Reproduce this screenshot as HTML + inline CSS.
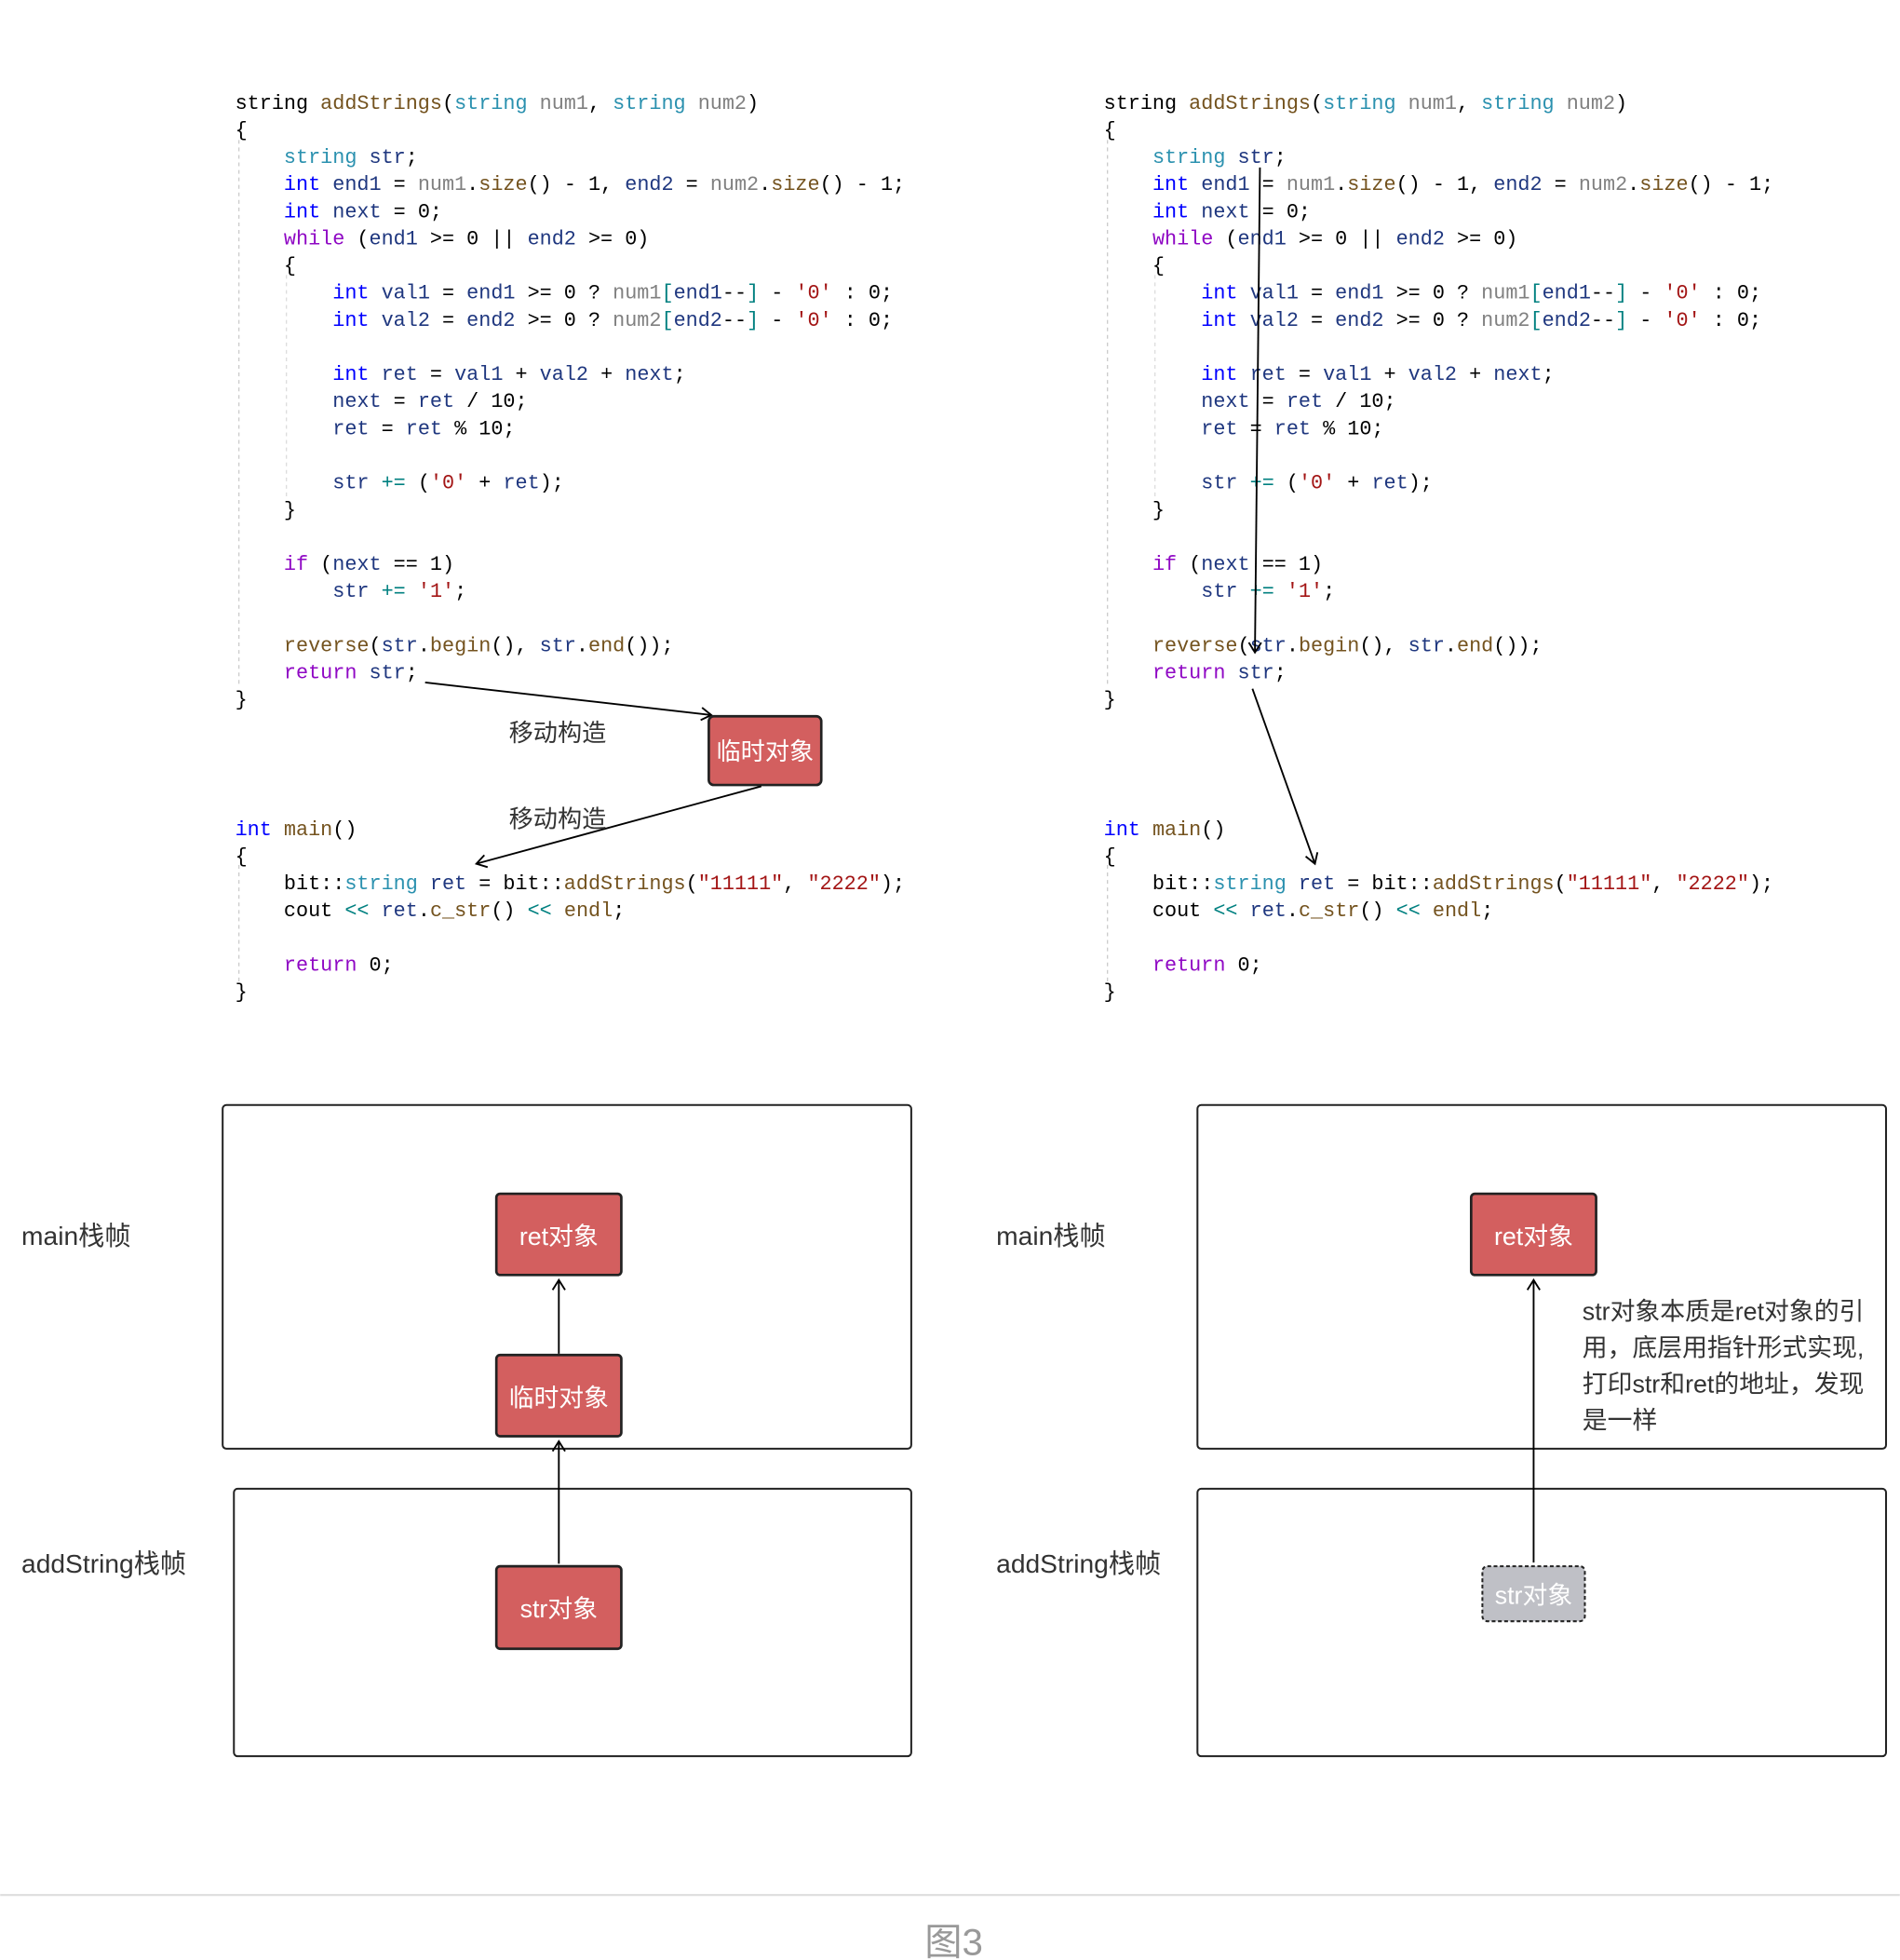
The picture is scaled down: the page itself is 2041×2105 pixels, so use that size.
<!DOCTYPE html>
<html><head><meta charset="utf-8"><style>
html,body{margin:0;padding:0;background:#fff;}
svg{display:block}
.c{font-family:"Liberation Mono",monospace;font-size:16.25px;white-space:pre;fill:#000}
.K{fill:#0000ff}.T{fill:#2b91af}.F{fill:#74531f}.P{fill:#808080}.V{fill:#1f377f}.C{fill:#8f08c4}.S{fill:#a31515}.O{fill:#008080}
.z{font-family:"Liberation Sans","Noto Sans CJK SC",sans-serif;}
</style></head><body>
<svg width="2041" height="2105" viewBox="0 0 1520 1568" xmlns="http://www.w3.org/2000/svg">
<defs>
<marker id="a" markerWidth="12" markerHeight="12" refX="10" refY="6" orient="auto" markerUnits="userSpaceOnUse">
<path d="M2,1 L10,6 L2,11" fill="none" stroke="#000" stroke-width="1.4"/></marker>
</defs>
<g id="code">
<line x1="191" y1="112" x2="191" y2="550" stroke="#ccc" stroke-dasharray="3,3"/>
<line x1="229" y1="220" x2="229" y2="400" stroke="#ddd" stroke-dasharray="3,3"/>
<line x1="191" y1="692" x2="191" y2="785" stroke="#ccc" stroke-dasharray="3,3"/>
<text class="c" x="188" y="87">string <tspan class="F">addStrings</tspan>(<tspan class="T">string </tspan><tspan class="P">num1</tspan>, <tspan class="T">string </tspan><tspan class="P">num2</tspan>)</text>
<text class="c" x="188" y="108.7">{</text>
<text class="c" x="188" y="130.4">    <tspan class="T">string </tspan><tspan class="V">str</tspan>;</text>
<text class="c" x="188" y="152.1">    <tspan class="K">int </tspan><tspan class="V">end1</tspan> = <tspan class="P">num1</tspan>.<tspan class="F">size</tspan>() - 1, <tspan class="V">end2</tspan> = <tspan class="P">num2</tspan>.<tspan class="F">size</tspan>() - 1;</text>
<text class="c" x="188" y="173.8">    <tspan class="K">int </tspan><tspan class="V">next</tspan> = 0;</text>
<text class="c" x="188" y="195.5">    <tspan class="C">while</tspan> (<tspan class="V">end1</tspan> &gt;= 0 || <tspan class="V">end2</tspan> &gt;= 0)</text>
<text class="c" x="188" y="217.2">    {</text>
<text class="c" x="188" y="238.9">        <tspan class="K">int </tspan><tspan class="V">val1</tspan> = <tspan class="V">end1</tspan> &gt;= 0 ? <tspan class="P">num1</tspan><tspan class="O">[</tspan><tspan class="V">end1</tspan>--<tspan class="O">]</tspan> - <tspan class="S">'0'</tspan> : 0;</text>
<text class="c" x="188" y="260.6">        <tspan class="K">int </tspan><tspan class="V">val2</tspan> = <tspan class="V">end2</tspan> &gt;= 0 ? <tspan class="P">num2</tspan><tspan class="O">[</tspan><tspan class="V">end2</tspan>--<tspan class="O">]</tspan> - <tspan class="S">'0'</tspan> : 0;</text>
<text class="c" x="188" y="304">        <tspan class="K">int </tspan><tspan class="V">ret</tspan> = <tspan class="V">val1</tspan> + <tspan class="V">val2</tspan> + <tspan class="V">next</tspan>;</text>
<text class="c" x="188" y="325.7">        <tspan class="V">next</tspan> = <tspan class="V">ret</tspan> / 10;</text>
<text class="c" x="188" y="347.4">        <tspan class="V">ret</tspan> = <tspan class="V">ret</tspan> % 10;</text>
<text class="c" x="188" y="390.8">        <tspan class="V">str</tspan> <tspan class="O">+=</tspan> (<tspan class="S">'0'</tspan> + <tspan class="V">ret</tspan>);</text>
<text class="c" x="188" y="412.5">    }</text>
<text class="c" x="188" y="455.9">    <tspan class="C">if</tspan> (<tspan class="V">next</tspan> == 1)</text>
<text class="c" x="188" y="477.6">        <tspan class="V">str</tspan> <tspan class="O">+=</tspan> <tspan class="S">'1'</tspan>;</text>
<text class="c" x="188" y="521">    <tspan class="F">reverse</tspan>(<tspan class="V">str</tspan>.<tspan class="F">begin</tspan>(), <tspan class="V">str</tspan>.<tspan class="F">end</tspan>());</text>
<text class="c" x="188" y="542.7">    <tspan class="C">return</tspan> <tspan class="V">str</tspan>;</text>
<text class="c" x="188" y="564.4">}</text>
<text class="c" x="188" y="668"><tspan class="K">int </tspan><tspan class="F">main</tspan>()</text>
<text class="c" x="188" y="689.7">{</text>
<text class="c" x="188" y="711.4">    bit::<tspan class="T">string </tspan><tspan class="V">ret</tspan> = bit::<tspan class="F">addStrings</tspan>(<tspan class="S">"11111"</tspan>, <tspan class="S">"2222"</tspan>);</text>
<text class="c" x="188" y="733.1">    cout <tspan class="O">&lt;&lt;</tspan> <tspan class="V">ret</tspan>.<tspan class="F">c_str</tspan>() <tspan class="O">&lt;&lt;</tspan> <tspan class="F">endl</tspan>;</text>
<text class="c" x="188" y="776.5">    <tspan class="C">return</tspan> 0;</text>
<text class="c" x="188" y="798.2">}</text>
</g>
<g transform="translate(695,0)">
<line x1="191" y1="112" x2="191" y2="550" stroke="#ccc" stroke-dasharray="3,3"/>
<line x1="229" y1="220" x2="229" y2="400" stroke="#ddd" stroke-dasharray="3,3"/>
<line x1="191" y1="692" x2="191" y2="785" stroke="#ccc" stroke-dasharray="3,3"/>
<text class="c" x="188" y="87">string <tspan class="F">addStrings</tspan>(<tspan class="T">string </tspan><tspan class="P">num1</tspan>, <tspan class="T">string </tspan><tspan class="P">num2</tspan>)</text>
<text class="c" x="188" y="108.7">{</text>
<text class="c" x="188" y="130.4">    <tspan class="T">string </tspan><tspan class="V">str</tspan>;</text>
<text class="c" x="188" y="152.1">    <tspan class="K">int </tspan><tspan class="V">end1</tspan> = <tspan class="P">num1</tspan>.<tspan class="F">size</tspan>() - 1, <tspan class="V">end2</tspan> = <tspan class="P">num2</tspan>.<tspan class="F">size</tspan>() - 1;</text>
<text class="c" x="188" y="173.8">    <tspan class="K">int </tspan><tspan class="V">next</tspan> = 0;</text>
<text class="c" x="188" y="195.5">    <tspan class="C">while</tspan> (<tspan class="V">end1</tspan> &gt;= 0 || <tspan class="V">end2</tspan> &gt;= 0)</text>
<text class="c" x="188" y="217.2">    {</text>
<text class="c" x="188" y="238.9">        <tspan class="K">int </tspan><tspan class="V">val1</tspan> = <tspan class="V">end1</tspan> &gt;= 0 ? <tspan class="P">num1</tspan><tspan class="O">[</tspan><tspan class="V">end1</tspan>--<tspan class="O">]</tspan> - <tspan class="S">'0'</tspan> : 0;</text>
<text class="c" x="188" y="260.6">        <tspan class="K">int </tspan><tspan class="V">val2</tspan> = <tspan class="V">end2</tspan> &gt;= 0 ? <tspan class="P">num2</tspan><tspan class="O">[</tspan><tspan class="V">end2</tspan>--<tspan class="O">]</tspan> - <tspan class="S">'0'</tspan> : 0;</text>
<text class="c" x="188" y="304">        <tspan class="K">int </tspan><tspan class="V">ret</tspan> = <tspan class="V">val1</tspan> + <tspan class="V">val2</tspan> + <tspan class="V">next</tspan>;</text>
<text class="c" x="188" y="325.7">        <tspan class="V">next</tspan> = <tspan class="V">ret</tspan> / 10;</text>
<text class="c" x="188" y="347.4">        <tspan class="V">ret</tspan> = <tspan class="V">ret</tspan> % 10;</text>
<text class="c" x="188" y="390.8">        <tspan class="V">str</tspan> <tspan class="O">+=</tspan> (<tspan class="S">'0'</tspan> + <tspan class="V">ret</tspan>);</text>
<text class="c" x="188" y="412.5">    }</text>
<text class="c" x="188" y="455.9">    <tspan class="C">if</tspan> (<tspan class="V">next</tspan> == 1)</text>
<text class="c" x="188" y="477.6">        <tspan class="V">str</tspan> <tspan class="O">+=</tspan> <tspan class="S">'1'</tspan>;</text>
<text class="c" x="188" y="521">    <tspan class="F">reverse</tspan>(<tspan class="V">str</tspan>.<tspan class="F">begin</tspan>(), <tspan class="V">str</tspan>.<tspan class="F">end</tspan>());</text>
<text class="c" x="188" y="542.7">    <tspan class="C">return</tspan> <tspan class="V">str</tspan>;</text>
<text class="c" x="188" y="564.4">}</text>
<text class="c" x="188" y="668"><tspan class="K">int </tspan><tspan class="F">main</tspan>()</text>
<text class="c" x="188" y="689.7">{</text>
<text class="c" x="188" y="711.4">    bit::<tspan class="T">string </tspan><tspan class="V">ret</tspan> = bit::<tspan class="F">addStrings</tspan>(<tspan class="S">"11111"</tspan>, <tspan class="S">"2222"</tspan>);</text>
<text class="c" x="188" y="733.1">    cout <tspan class="O">&lt;&lt;</tspan> <tspan class="V">ret</tspan>.<tspan class="F">c_str</tspan>() <tspan class="O">&lt;&lt;</tspan> <tspan class="F">endl</tspan>;</text>
<text class="c" x="188" y="776.5">    <tspan class="C">return</tspan> 0;</text>
<text class="c" x="188" y="798.2">}</text>
</g>

<line x1="340" y1="546" x2="569" y2="572" stroke="#000" stroke-width="1.4" marker-end="url(#a)"/>
<rect x="567" y="573" width="90" height="55" rx="4" fill="#d35f5f" stroke="#222" stroke-width="2"/>
<text class="z" x="612" y="608" font-size="19.5" fill="#fff" text-anchor="middle">临时对象</text>
<line x1="609" y1="629" x2="381" y2="691" stroke="#000" stroke-width="1.4" marker-end="url(#a)"/>
<text class="z" x="446" y="593" font-size="19.5" fill="#333" text-anchor="middle">移动构造</text>
<text class="z" x="446" y="662" font-size="19.5" fill="#333" text-anchor="middle">移动构造</text>

<line x1="1008" y1="134" x2="1004" y2="522" stroke="#000" stroke-width="1.4" marker-end="url(#a)"/>
<line x1="1002" y1="551" x2="1052" y2="691" stroke="#000" stroke-width="1.4" marker-end="url(#a)"/>

<rect x="178" y="884" width="551" height="275" rx="3" fill="none" stroke="#222" stroke-width="1.5"/>
<rect x="187" y="1191" width="542" height="214" rx="3" fill="none" stroke="#222" stroke-width="1.5"/>
<text class="z" x="17" y="996" font-size="21" fill="#333">main栈帧</text>
<text class="z" x="17" y="1258" font-size="21" fill="#333">addString栈帧</text>
<rect x="397" y="955" width="100" height="65" rx="3" fill="#d35f5f" stroke="#222" stroke-width="2"/>
<text class="z" x="447" y="996" font-size="20" fill="#fff" text-anchor="middle">ret对象</text>
<rect x="397" y="1084" width="100" height="65" rx="3" fill="#d35f5f" stroke="#222" stroke-width="2"/>
<text class="z" x="447" y="1125" font-size="20" fill="#fff" text-anchor="middle">临时对象</text>
<rect x="397" y="1253" width="100" height="66" rx="3" fill="#d35f5f" stroke="#222" stroke-width="2"/>
<text class="z" x="447" y="1294" font-size="20" fill="#fff" text-anchor="middle">str对象</text>
<line x1="447" y1="1083" x2="447" y2="1024" stroke="#000" stroke-width="1.4" marker-end="url(#a)"/>
<line x1="447" y1="1251" x2="447" y2="1153" stroke="#000" stroke-width="1.4" marker-end="url(#a)"/>

<rect x="958" y="884" width="551" height="275" rx="3" fill="none" stroke="#222" stroke-width="1.5"/>
<rect x="958" y="1191" width="551" height="214" rx="3" fill="none" stroke="#222" stroke-width="1.5"/>
<text class="z" x="797" y="996" font-size="21" fill="#333">main栈帧</text>
<text class="z" x="797" y="1258" font-size="21" fill="#333">addString栈帧</text>
<rect x="1177" y="955" width="100" height="65" rx="3" fill="#d35f5f" stroke="#222" stroke-width="2"/>
<text class="z" x="1227" y="996" font-size="20" fill="#fff" text-anchor="middle">ret对象</text>
<line x1="1227" y1="1250" x2="1227" y2="1024" stroke="#000" stroke-width="1.4" marker-end="url(#a)"/>
<rect x="1186" y="1253" width="82" height="44" rx="4" fill="#bfc0c6" stroke="#222" stroke-width="1.5" stroke-dasharray="3,2"/>
<text class="z" x="1227" y="1283" font-size="20" fill="#fff" text-anchor="middle">str对象</text>
<g class="z" font-size="20" fill="#333">
<text x="1266" y="1056">str对象本质是ret对象的引</text>
<text x="1266" y="1085">用，底层用指针形式实现,</text>
<text x="1266" y="1114">打印str和ret的地址，发现</text>
<text x="1266" y="1143">是一样</text>
</g>

<line x1="0" y1="1516" x2="1520" y2="1516" stroke="#ddd" stroke-width="1.5"/>
<text class="z" x="763" y="1564" font-size="30" fill="#999" text-anchor="middle">图3</text>
</svg>
</body></html>
